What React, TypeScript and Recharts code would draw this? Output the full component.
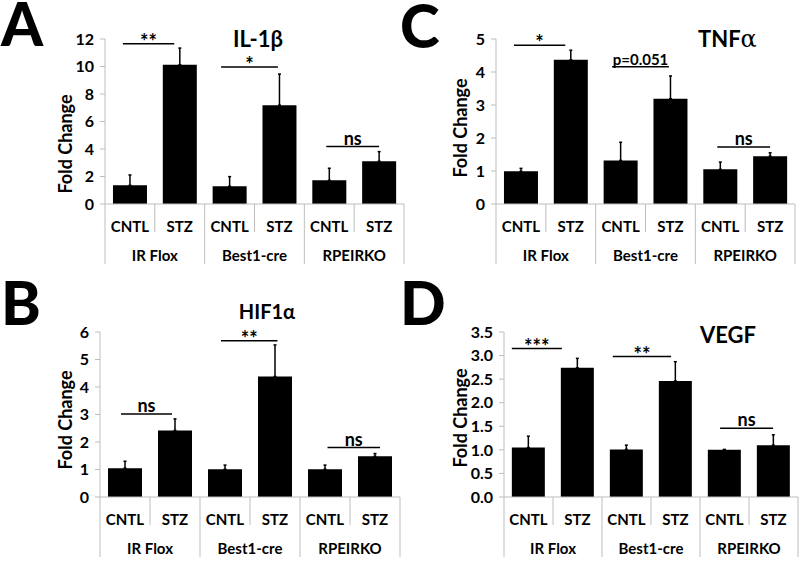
import React from 'react';
import { BarChart, Bar, XAxis, YAxis, ErrorBar, ReferenceLine } from 'recharts';

const groups = ['IR Flox', 'Best1-cre', 'RPEIRKO'];
const conditions = ['CNTL', 'STZ'];
// slot centres on the x axis (one slot per group/condition pair)
const slots = [0.5, 1.5, 2.5, 3.5, 4.5, 5.5];

// A: IL-1β
const il1bMean = [1.36, 10.13, 1.29, 7.19, 1.72, 3.11];
const il1bErr = [0.75, 1.21, 0.7, 2.26, 0.88, 0.7];
const il1bTicks = [0, 2, 4, 6, 8, 10, 12];
const il1bSig = [
  { from: 0.36, to: 1.39, y: 11.66, text: '**' },
  { from: 2.33, to: 3.47, y: 9.96, text: '*' },
  { from: 4.44, to: 5.5, y: 4.18, text: 'ns' },
];

// C: TNFα
const tnfaMean = [0.99, 4.37, 1.32, 3.19, 1.05, 1.45];
const tnfaErr = [0.09, 0.29, 0.55, 0.69, 0.22, 0.1];
const tnfaTicks = [0, 1, 2, 3, 4, 5];
const tnfaSig = [
  { from: 0.36, to: 1.39, y: 4.81, text: '*' },
  { from: 2.33, to: 3.47, y: 4.16, text: 'p=0.051' },
  { from: 4.44, to: 5.5, y: 1.73, text: 'ns' },
];

// B: HIF1α
const hif1aMean = [1.05, 2.42, 1.01, 4.38, 1.01, 1.48];
const hif1aErr = [0.25, 0.42, 0.15, 1.15, 0.15, 0.1];
const hif1aTicks = [0, 1, 2, 3, 4, 5, 6];
const hif1aSig = [
  { from: 0.42, to: 1.44, y: 3.02, text: 'ns' },
  { from: 2.42, to: 3.55, y: 5.68, text: '**' },
  { from: 4.55, to: 5.6, y: 1.8, text: 'ns' },
];

// D: VEGF
const vegfMean = [1.05, 2.74, 1.01, 2.46, 1.0, 1.1];
const vegfErr = [0.24, 0.2, 0.09, 0.41, 0.01, 0.22];
const vegfTicks = [0, 0.5, 1, 1.5, 2, 2.5, 3, 3.5];
const vegfSig = [
  { from: 0.16, to: 1.18, y: 3.15, text: '***' },
  { from: 2.22, to: 3.41, y: 2.98, text: '**' },
  { from: 4.41, to: 5.49, y: 1.46, text: 'ns' },
];

const GRAY = '#bdbdbd';
const FONT = 'Lato, "Open Sans", sans-serif';

const makeRows = (mean: number[], err: number[]) =>
  slots.map((x, i) => ({ x, value: mean[i], err: [0, err[i]] }));

const makeTick = (band: number, n: number) => (props: any) => {
  const { x, y, index } = props;
  const cond = conditions[index % 2];
  const group = groups[Math.floor(index / 2)];
  const left = x - band / 2;
  const right = x + band / 2;
  return (
    <g>
      <line x1={left} x2={left} y1={y} y2={y + (index % 2 === 0 ? 60 : 28)} stroke={GRAY} />
      {index === n - 1 && <line x1={right} x2={right} y1={y} y2={y + 60} stroke={GRAY} />}
      <text x={x} y={y + 23} dy="0.35em" textAnchor="middle" fontFamily={FONT} fontWeight={700} fontSize={15} fill="#000">
        {cond}
      </text>
      {index % 2 === 0 && (
        <text x={right} y={y + 52} dy="0.35em" textAnchor="middle" fontFamily={FONT} fontWeight={700} fontSize={15} fill="#000">
          {group}
        </text>
      )}
    </g>
  );
};

const sigLabel = (text: string) => (props: any) => {
  const vb = props.viewBox;
  const cx = vb.x + vb.width / 2;
  const star = text.startsWith('*');
  const size = star ? 20 : text.startsWith('p') ? 15 : 18;
  return (
    <text x={cx} y={star ? vb.y + 5 : vb.y - 2} textAnchor="middle" fontFamily={FONT} fontWeight={700} fontSize={size} fill="#000">
      {text}
    </text>
  );
};

type Sig = { from: number; to: number; y: number; text: string };

type PanelProps = {
  left: number;
  top: number;
  width: number;
  height: number;
  margin: { top: number; right: number; bottom: number; left: number };
  mean: number[];
  err: number[];
  ticks: number[];
  sigs: Sig[];
  fmt?: (v: number) => string;
  labelX: number;
  labelY: number;
};

function Panel({ left, top, width, height, margin, mean, err, ticks, sigs, fmt, labelX, labelY }: PanelProps) {
  const rows = makeRows(mean, err);
  const yWidth = 45;
  const band = (width - margin.left - margin.right - yWidth) / rows.length;
  return (
    <div style={{ position: 'absolute', left, top }}>
      <BarChart width={width} height={height} data={rows} margin={margin} barCategoryGap="16%">
        <XAxis
          dataKey="x"
          type="number"
          domain={[0, slots.length]}
          allowDataOverflow
          ticks={slots}
          interval={0}
          tickSize={0}
          tickMargin={0}
          tickLine={false}
          axisLine={{ stroke: GRAY }}
          height={60}
          tick={makeTick(band, rows.length)}
        />
        <YAxis
          type="number"
          width={yWidth}
          domain={[0, ticks[ticks.length - 1]]}
          ticks={ticks}
          interval={0}
          tickFormatter={fmt}
          tickSize={5}
          tickMargin={6}
          axisLine={{ stroke: GRAY }}
          tickLine={{ stroke: GRAY }}
          tick={{ fontFamily: FONT, fontWeight: 700, fontSize: 16, fill: '#000' }}
          label={{
            content: () => (
              <text
                x={labelX}
                y={labelY}
                transform={`rotate(-90 ${labelX} ${labelY})`}
                textAnchor="middle"
                dominantBaseline="central"
                fontFamily={FONT}
                fontWeight={700}
                fontSize={18}
                fill="#000"
              >
                Fold Change
              </text>
            ),
          }}
        />
        <Bar dataKey="value" fill="#000" isAnimationActive={false}>
          <ErrorBar dataKey="err" direction="y" width={1.5} stroke="#000" strokeWidth={1.5} />
        </Bar>
        {sigs.map((s, i) => (
          <ReferenceLine
            key={i}
            ifOverflow="visible"
            segment={[
              { x: s.from, y: s.y },
              { x: s.to, y: s.y },
            ]}
            stroke="#000"
            strokeWidth={1.5}
            label={{ content: sigLabel(s.text) }}
          />
        ))}
      </BarChart>
    </div>
  );
}

const letterStyle = { fontFamily: FONT, fontWeight: 900, fontSize: 60, fill: '#000' } as const;
const titleStyle = { fontFamily: FONT, fontWeight: 700, fontSize: 22, fill: '#000' } as const;

export default function App() {
  return (
    <div style={{ position: 'relative', width: 800, height: 565, background: '#fff', overflow: 'hidden' }}>
      <style>{'body{margin:0}'}</style>
      <Panel
        left={0}
        top={0}
        width={410}
        height={280}
        margin={{ top: 39, right: 6, bottom: 16, left: 60 }}
        mean={il1bMean}
        err={il1bErr}
        ticks={il1bTicks}
        sigs={il1bSig}
        labelX={65}
        labelY={144}
      />
      <Panel
        left={400}
        top={0}
        width={400}
        height={280}
        margin={{ top: 39, right: 5, bottom: 16, left: 51 }}
        mean={tnfaMean}
        err={tnfaErr}
        ticks={tnfaTicks}
        sigs={tnfaSig}
        labelX={60}
        labelY={128}
      />
      <Panel
        left={0}
        top={280}
        width={410}
        height={285}
        margin={{ top: 52, right: 10, bottom: 8, left: 55 }}
        mean={hif1aMean}
        err={hif1aErr}
        ticks={hif1aTicks}
        sigs={hif1aSig}
        labelX={65}
        labelY={140}
      />
      <Panel
        left={400}
        top={280}
        width={400}
        height={285}
        margin={{ top: 52, right: 2, bottom: 8, left: 59 }}
        mean={vegfMean}
        err={vegfErr}
        ticks={vegfTicks}
        sigs={vegfSig}
        fmt={(v) => v.toFixed(1)}
        labelX={60}
        labelY={138}
      />
      <svg width={800} height={565} style={{ position: 'absolute', left: 0, top: 0, pointerEvents: 'none' }}>
        <text x={1} y={46} {...letterStyle}>A</text>
        <text x={400} y={48} {...letterStyle}>C</text>
        <text x={1} y={325} {...letterStyle}>B</text>
        <text x={400} y={325} {...letterStyle}>D</text>
        <text x={258} y={47} textAnchor="middle" {...titleStyle}>IL-1β</text>
        <text x={698} y={47} {...titleStyle}>
          TNF<tspan fontFamily='"DejaVu Serif", serif' fontWeight={400} fontSize={24}>α</tspan>
        </text>
        <text x={267} y={319} textAnchor="middle" {...titleStyle} fontSize={20}>HIF1α</text>
        <text x={728} y={343} textAnchor="middle" {...titleStyle}>VEGF</text>
      </svg>
    </div>
  );
}
